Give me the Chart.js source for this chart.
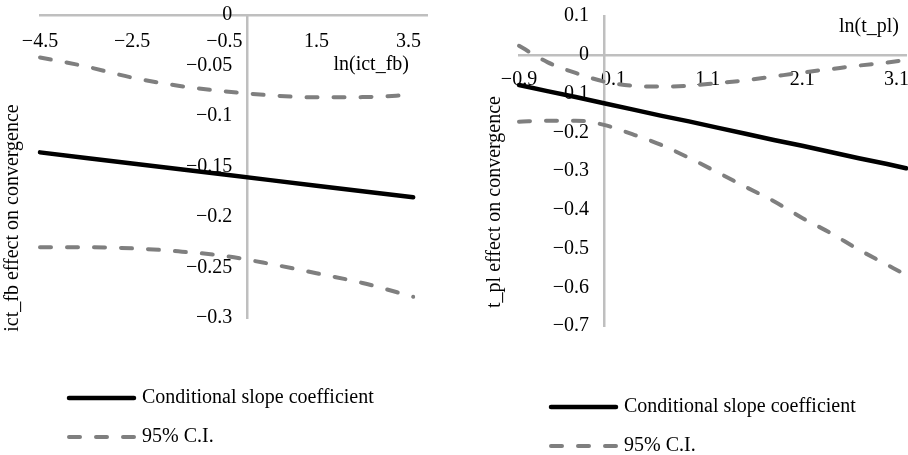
<!DOCTYPE html>
<html>
<head>
<meta charset="utf-8">
<script src="https://cdn.jsdelivr.net/npm/chart.js@4.4.0/dist/chart.umd.min.js"></script>
<style>
  html, body { margin: 0; padding: 0; background: #fff; }
  #wrap { position: relative; width: 908px; height: 455px; }
  .panel { position: absolute; top: 0; width: 454px; height: 455px; }
</style>
</head>
<body>
<div id="wrap">
  <div class="panel" style="left:0"><canvas id="chartIct"></canvas></div>
  <div class="panel" style="left:454px"><canvas id="chartTpl"></canvas></div>
</div>
<script>
// left panel - ln(ict_fb)
const ictX = [-4.5, -3.5, -2.5, -1.5, -0.5, 0.5, 1.5, 2.5, 3.6];
const ictSlope = [-0.136, -0.1415, -0.147, -0.1525, -0.158, -0.1635, -0.169, -0.1745, -0.1805];
const ictUpper = [-0.042, -0.051, -0.062, -0.070, -0.0755, -0.0795, -0.0815, -0.0813, -0.079];
const ictLower = [-0.230, -0.230, -0.231, -0.234, -0.2385, -0.2465, -0.2557, -0.2653, -0.279];
const ictXTicks = [-4.5, -2.5, -0.5, 1.5, 3.5];
const ictYTicks = [0, -0.05, -0.1, -0.15, -0.2, -0.25, -0.3];

// right panel - ln(t_pl)
const tplX = [-0.9, -0.6, -0.3, 0, 0.3, 0.6, 0.9, 1.2, 1.5, 1.8, 2.1, 2.4, 2.7, 3.0, 3.2];
const tplSlope = [-0.078, -0.094, -0.109, -0.125, -0.141, -0.157, -0.172, -0.188, -0.204, -0.220, -0.235, -0.251, -0.267, -0.282, -0.293];
const tplUpper = [0.023, -0.019, -0.047, -0.069, -0.080, -0.082, -0.080, -0.073, -0.066, -0.056, -0.046, -0.037, -0.028, -0.020, -0.014];
const tplLower = [-0.173, -0.170, -0.170, -0.181, -0.205, -0.232, -0.266, -0.303, -0.341, -0.378, -0.421, -0.460, -0.503, -0.542, -0.568];
const tplXTicks = [-0.9, 0.1, 1.1, 2.1, 3.1];
const tplYTicks = [0.1, 0, -0.1, -0.2, -0.3, -0.4, -0.5, -0.6, -0.7];

const legendLabels = ['Conditional slope coefficient', '95% C.I.'];

const FONT = "'Liberation Serif', 'Times New Roman', serif";
Chart.defaults.font.family = FONT;
Chart.defaults.font.size = 20;
Chart.defaults.color = '#000';

function fmt(v) {
  return String(v).replace('-', '\u2212');
}

// draws axis titles and the legend (two entries for three lines)
const extrasPlugin = {
  id: 'extras',
  afterDraw(chart, args, opts) {
    const ctx = chart.ctx;
    ctx.save();
    ctx.font = '20px ' + FONT;
    ctx.fillStyle = '#000';
    ctx.textBaseline = 'middle';
    ctx.textAlign = 'right';
    ctx.fillText(opts.xTitle, opts.xTitleAt[0], opts.xTitleAt[1]);

    ctx.save();
    ctx.translate(opts.yTitleAt[0], opts.yTitleAt[1]);
    ctx.rotate(-Math.PI / 2);
    ctx.textAlign = 'center';
    ctx.fillText(opts.yTitle, 0, 0);
    ctx.restore();

    const ds = chart.data.datasets;
    [ds[0], ds[1]].forEach((d, i) => {
      const y = opts.legendAt[1] + i * 39;
      const x = opts.legendAt[0];
      ctx.beginPath();
      ctx.strokeStyle = d.borderColor;
      ctx.lineWidth = d.borderWidth;
      ctx.lineCap = 'round';
      ctx.setLineDash(d.borderDash || []);
      ctx.moveTo(x + 2, y);
      ctx.lineTo(x + 67, y);
      ctx.stroke();
      ctx.setLineDash([]);
      ctx.textAlign = 'left';
      ctx.fillText(legendLabels[i], x + 75, y);
    });
    ctx.restore();
  }
};

function makeChart(id, xs, slope, upper, lower, xTicks, yTicks, range, pad, extras) {
  const pts = arr => xs.map((x, i) => ({x: x, y: arr[i]}));
  const ciStyle = {
    borderColor: '#7f7f7f', borderWidth: 4, borderDash: [11, 16], borderCapStyle: 'round',
    pointRadius: 0, cubicInterpolationMode: 'monotone', clip: 8, fill: false
  };
  const noPad = s => { s.paddingLeft = 0; s.paddingRight = 0; s.paddingTop = 0; s.paddingBottom = 0; };
  return new Chart(document.getElementById(id), {
    type: 'line',
    data: {
      datasets: [
        Object.assign({label: legendLabels[0], data: pts(slope)}, {
          borderColor: '#000', borderWidth: 4.5, borderCapStyle: 'round',
          pointRadius: 0, clip: 8, fill: false
        }),
        Object.assign({label: legendLabels[1], data: pts(upper)}, ciStyle),
        Object.assign({label: legendLabels[1], data: pts(lower)}, ciStyle)
      ]
    },
    options: {
      responsive: true,
      maintainAspectRatio: false,
      animation: false,
      layout: {padding: pad},
      plugins: {
        legend: {display: false},
        tooltip: {enabled: false},
        extras: extras
      },
      scales: {
        x: {
          type: 'linear',
          position: {y: 0},
          min: range.xMin, max: range.xMax,
          afterBuildTicks: s => { s.ticks = xTicks.map(v => ({value: v})); },
          afterFit: noPad,
          grid: {drawOnChartArea: false, drawTicks: false},
          border: {color: '#bfbfbf', width: 2.5},
          ticks: {padding: range.xPad, maxRotation: 0, autoSkip: false, callback: v => fmt(v)}
        },
        y: {
          type: 'linear',
          position: {x: 0},
          min: range.yMin, max: range.yMax,
          afterBuildTicks: s => { s.ticks = yTicks.map(v => ({value: v})); },
          afterFit: noPad,
          grid: {drawOnChartArea: false, drawTicks: false},
          border: {color: '#bfbfbf', width: 2.5},
          ticks: {padding: 0, autoSkip: false, callback: v => fmt(v) + '   '}
        }
      }
    },
    plugins: [extrasPlugin]
  });
}

makeChart('chartIct', ictX, ictSlope, ictUpper, ictLower, ictXTicks, ictYTicks,
  {xMin: -4.5, xMax: 3.9, yMin: -0.3, yMax: 0, xPad: 15},
  {left: 40, right: 27, top: 15, bottom: 137},
  {xTitle: 'ln(ict_fb)', xTitleAt: [409, 65], yTitle: 'ict_fb effect on convergence', yTitleAt: [13, 218], legendAt: [67, 398]});

makeChart('chartTpl', tplX, tplSlope, tplUpper, tplLower, tplXTicks, tplYTicks,
  {xMin: -0.9, xMax: 3.2, yMin: -0.7, yMax: 0.1, xPad: 13},
  {left: 65, right: 2, top: 16, bottom: 129},
  {xTitle: 'ln(t_pl)', xTitleAt: [445, 27], yTitle: 't_pl effect on convergence', yTitleAt: [41, 202], legendAt: [95, 407]});
</script>
</body>
</html>
